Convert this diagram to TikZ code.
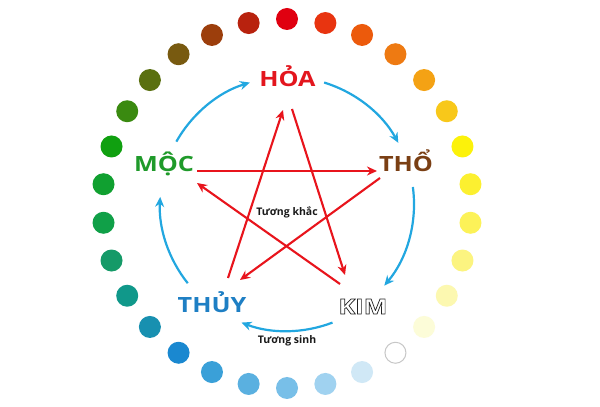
\documentclass[tikz,border=0pt]{standalone}
\usepackage{fontspec}
\setmainfont{Open Sans}
\newfontfamily\labfont[FakeStretch=1.2]{Open Sans}
\usetikzlibrary{arrows.meta}
\definecolor{hoac}{HTML}{E3161E}
\definecolor{mocc}{HTML}{1F9A2A}
\definecolor{thoc}{HTML}{7A3F14}
\definecolor{thuyc}{HTML}{1E7FC4}
\definecolor{kimc}{HTML}{222222}
\definecolor{shengblue}{HTML}{22A7E0}
\definecolor{khacred}{HTML}{E8141C}
\definecolor{smalltxt}{HTML}{1A1A1A}
\tikzset{
  lab/.style={anchor=base, inner sep=0pt, font={\labfont\bfseries\fontsize{21}{21}\selectfont}},
  small/.style={anchor=base, inner sep=0pt, text=smalltxt, font={\bfseries\fontsize{10.5}{12}\selectfont}},
  sheng/.style={draw=shengblue, line width=2.2pt, -{Stealth[length=10pt,width=9pt]}},
  khac/.style={draw=khacred, line width=2.1pt, -{Stealth[length=10pt,width=9pt]}},
}
\begin{document}
\begin{tikzpicture}[x=1pt,y=1pt]
\useasboundingbox[fill=white] (0,0) rectangle (600,407);
% ring of dots
\foreach \c [count=\k from 0] in {E00010,E83410,EC5A0C,EE7A12,F4A214,F8C81A,FCF20A,FCF030,FCF258,FCF480,FCF8B0,FCFCD8,FFFFFF,D0E8F6,A0D2F0,78BFE8,5AB0E0,3AA0D8,1A88D0,1890B0,10988A,159A68,10A048,10A030,10A010,3A8A10,5A7010,785A10,9C3E0C,B8220E}{
  \definecolor{dc}{HTML}{\c}
  \fill[fill=dc, shift={(287,203.5)}] (90-12*\k:184.5) circle (11);
}
\draw[draw=black!22, line width=1pt, fill=white, shift={(287,203.5)}] (90-12*12:184.5) circle (10.5);
% labels
\node[lab, text=hoac] (hoa) at (287.5,320) {HỎA};
\node[lab, text=mocc] (moc) at (164,235) {MỘC};
\node[lab, text=thoc] (tho) at (406,235) {THỔ};
\node[lab, text=thuyc] (thuy) at (212,94) {THỦY};
\node[lab, text=kimc] (kim) at (363,93) {\special{pdf:literal direct 1 Tr 0.7 w}KIM\special{pdf:literal direct 0 Tr}};
\node[small] (khac) at (287,191) {Tương khắc};
\node[small] (sinh) at (287,63) {Tương sinh};
% generating cycle (blue arcs)
\coordinate (C) at (287,203);
\path (C) ++(150.6:127) coordinate (s1);
\path (C) ++(73:127) coordinate (s2);
\path (C) ++(7.7:127) coordinate (s3);
\path (C) ++(-69:127) coordinate (s4);
\path (C) ++(218.6:127) coordinate (s5);
\draw[sheng] (s1) arc[start angle=150.6, end angle=107, radius=127];
\draw[sheng] (s2) arc[start angle=73, end angle=28.8, radius=127];
\draw[sheng] (s3) arc[start angle=7.7, end angle=-40, radius=127];
\draw[sheng] (s4) arc[start angle=-69, end angle=-111, radius=127];
\draw[sheng] (s5) arc[start angle=218.6, end angle=176.8, radius=127];
% controlling cycle (red star)
\coordinate (mocR) at (197,236);
\coordinate (thoL) at (377,236);
\coordinate (kimA) at (340,123);
\coordinate (mocB) at (197,224);
\coordinate (thoB) at (380,229);
\coordinate (thuyA) at (240,127);
\coordinate (thuyB) at (228,129);
\coordinate (hoaA) at (283,297);
\coordinate (hoaB) at (292,298);
\coordinate (kimB) at (345,132);
\draw[khac] (mocR) -- (thoL);
\draw[khac] (kimA) -- (mocB);
\draw[khac] (thoB) -- (thuyA);
\draw[khac] (thuyB) -- (hoaA);
\draw[khac] (hoaB) -- (kimB);
\end{tikzpicture}
\end{document}
